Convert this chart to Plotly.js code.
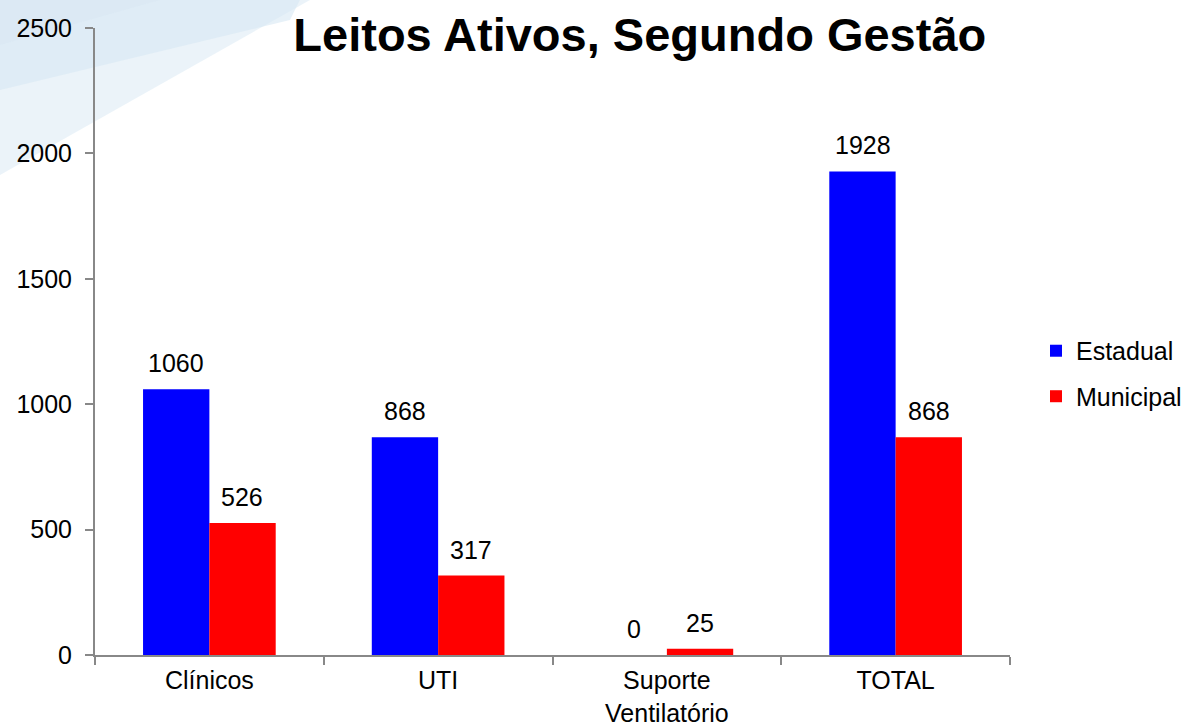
<!DOCTYPE html>
<html>
<head>
<meta charset="utf-8">
<script src="https://cdn.plot.ly/plotly-3.0.1.min.js"></script>
<style>html,body{margin:0;padding:0;background:#fff}#chart{width:1187px;height:728px}</style>
</head>
<body>
<div id="chart"></div>
<script>
var categories = ["Clínicos", "UTI", "Suporte<br>Ventilatório", "TOTAL"];
var estadual = [1060, 868, 0, 1928];
var municipal = [526, 317, 25, 868];
var seriesNames = ["Estadual", "Municipal"];
var yTicks = [0, 500, 1000, 1500, 2000, 2500];

var font = "Liberation Sans, Arial, sans-serif";
var fs = 25;

var traces = [
  {type: "bar", name: seriesNames[0], x: categories, y: estadual, marker: {color: "#0000FF"}, legendgroup: "a", hoverinfo: "y"},
  {type: "bar", name: seriesNames[1], x: categories, y: municipal, marker: {color: "#FF0000"}, legendgroup: "b", hoverinfo: "y"}
];

var annotations = [];
[estadual, municipal].forEach(function(vals, s) {
  vals.forEach(function(v, i) {
    annotations.push({
      x: categories[i], y: v, xref: "x", yref: "y",
      text: String(v), showarrow: false,
      xshift: s === 0 ? -33 : 33, yshift: 10, yanchor: "bottom",
      font: {family: font, size: fs, color: "#000"}
    });
  });
});

function px(xp, yp) {
  return ((xp - 95) / 915).toFixed(4) + "," + ((655 - yp) / 627).toFixed(4);
}
var shapes = [
  {type: "path", xref: "paper", yref: "paper", layer: "below", line: {width: 0}, fillcolor: "rgba(228,239,247,0.75)",
   path: "M" + px(0,0) + " L" + px(310,0) + " L" + px(0,175) + " Z"},
  {type: "path", xref: "paper", yref: "paper", layer: "below", line: {width: 0}, fillcolor: "rgba(215,231,243,0.6)",
   path: "M" + px(0,0) + " L" + px(300,0) + " L" + px(290,20) + " L" + px(0,90) + " Z"},
  {type: "path", xref: "paper", yref: "paper", layer: "below", line: {width: 0}, fillcolor: "rgba(215,231,243,0.4)",
   path: "M" + px(0,0) + " L" + px(160,0) + " L" + px(0,45) + " Z"}
];

var layout = {
  width: 1187, height: 728,
  paper_bgcolor: "#fff", plot_bgcolor: "rgba(0,0,0,0)",
  margin: {l: 95, r: 177, t: 28, b: 73, autoexpand: false},
  font: {family: font, size: fs, color: "#000"},
  title: {text: "<b>Leitos Ativos, Segundo Gestão</b>", x: 0.539, xanchor: "center", y: 0.953, yanchor: "middle",
          font: {family: font, size: 47, color: "#000"}},
  barmode: "group", bargap: 0.42, bargroupgap: 0,
  xaxis: {type: "category", showline: true, linecolor: "#888", linewidth: 2, ticks: "outside", tickson: "boundaries",
          ticklen: 8, tickcolor: "#888", tickwidth: 2, showgrid: false, zeroline: false, ticklabelstandoff: 2,
          automargin: false, tickfont: {family: font, size: fs, color: "#000"}},
  yaxis: {range: [0, 2500], tickvals: yTicks, showline: true, linecolor: "#888", linewidth: 2, ticks: "outside",
          ticklen: 8, tickcolor: "#888", tickwidth: 2, showgrid: false, zeroline: false, ticklabelstandoff: 8,
          automargin: false, tickfont: {family: font, size: fs, color: "#000"}},
  legend: {x: 1.0284, y: 0.449, xanchor: "left", yanchor: "middle", traceorder: "grouped", tracegroupgap: 10,
           font: {family: font, size: fs, color: "#000"}, itemwidth: 30},
  annotations: annotations,
  shapes: shapes,
  showlegend: true
};

Plotly.newPlot("chart", traces, layout, {displayModeBar: false});
</script>
</body>
</html>
